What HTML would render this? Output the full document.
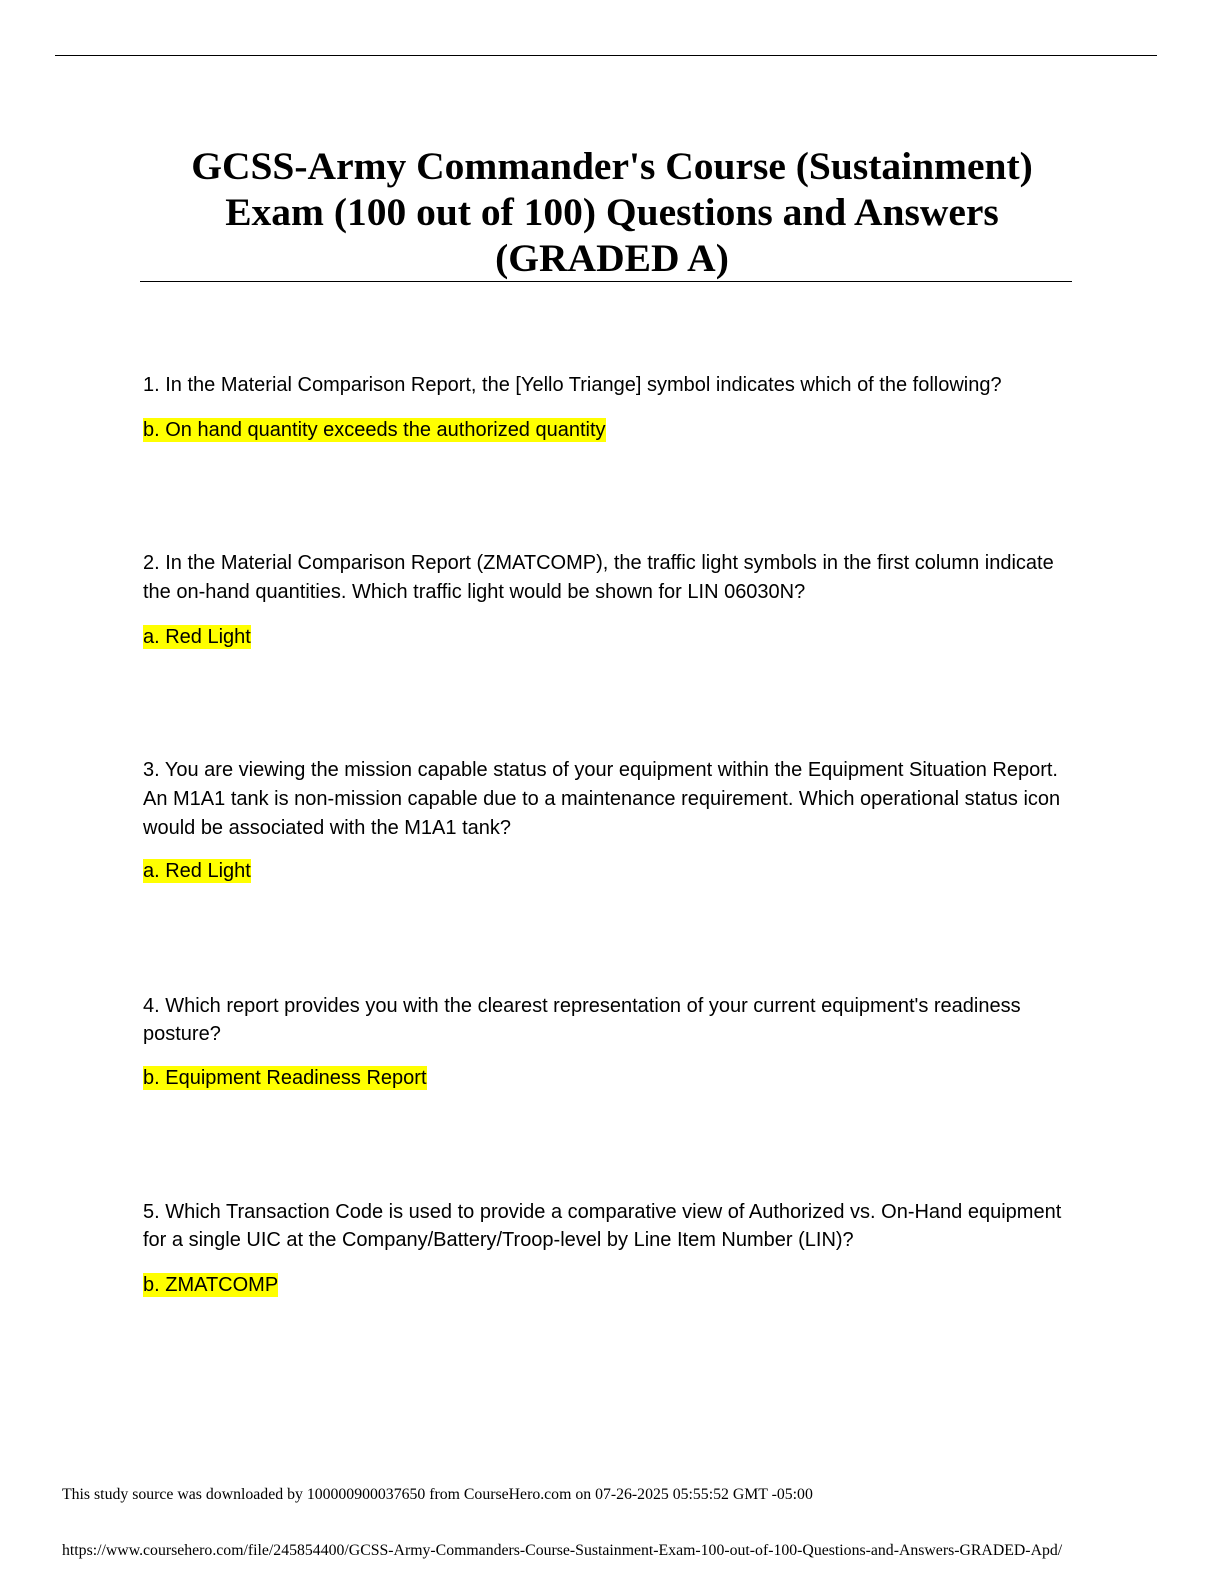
<!DOCTYPE html>
<html><head><meta charset="utf-8"><style>
html,body{margin:0;padding:0;background:#fff;}
body{width:1224px;height:1584px;position:relative;overflow:hidden;}
.hr{position:absolute;background:#000;height:1px;}
.t{position:absolute;left:0;width:1224px;text-align:center;font-family:"Liberation Serif",serif;font-weight:bold;font-size:39.5px;line-height:46px;color:#000;}
.q{position:absolute;left:143px;font-family:"Liberation Sans",sans-serif;font-size:20px;line-height:22px;color:#000;white-space:nowrap;}
.a{background:#ffff00;padding:1px 0 1px 0;}
.f{position:absolute;left:62px;font-family:"Liberation Serif",serif;font-size:15.8px;color:#000;white-space:nowrap;}
</style></head><body>
<div class="hr" style="left:55px;width:1102px;top:55px;"></div>
<div class="t" style="top:143px;">GCSS-Army Commander's Course (Sustainment)</div>
<div class="t" style="top:189px;">Exam (100 out of 100) Questions and Answers</div>
<div class="t" style="top:235px;">(GRADED A)</div>
<div class="hr" style="left:140px;width:932px;top:281px;"></div>

<div class="q" style="top:374px;">1. In the Material Comparison Report, the [Yello Triange] symbol indicates which of the following?</div>
<div class="q" style="top:419px;"><span class="a">b. On hand quantity exceeds the authorized quantity</span></div>

<div class="q" style="top:552px;">2. In the Material Comparison Report (ZMATCOMP), the traffic light symbols in the first column indicate</div>
<div class="q" style="top:581px;">the on-hand quantities. Which traffic light would be shown for LIN 06030N?</div>
<div class="q" style="top:626px;"><span class="a">a. Red Light</span></div>

<div class="q" style="top:759px;">3. You are viewing the mission capable status of your equipment within the Equipment Situation Report.</div>
<div class="q" style="top:788px;">An M1A1 tank is non-mission capable due to a maintenance requirement. Which operational status icon</div>
<div class="q" style="top:817px;">would be associated with the M1A1 tank?</div>
<div class="q" style="top:860px;"><span class="a">a. Red Light</span></div>

<div class="q" style="top:995px;">4. Which report provides you with the clearest representation of your current equipment's readiness</div>
<div class="q" style="top:1023px;">posture?</div>
<div class="q" style="top:1067px;"><span class="a">b. Equipment Readiness Report</span></div>

<div class="q" style="top:1201px;">5. Which Transaction Code is used to provide a comparative view of Authorized vs. On-Hand equipment</div>
<div class="q" style="top:1229px;">for a single UIC at the Company/Battery/Troop-level by Line Item Number (LIN)?</div>
<div class="q" style="top:1274px;"><span class="a">b. ZMATCOMP</span></div>

<div class="f" style="top:1486px;">This study source was downloaded by 100000900037650 from CourseHero.com on 07-26-2025 05:55:52 GMT -05:00</div>
<div class="f" style="top:1542px;">https://www.coursehero.com/file/245854400/GCSS-Army-Commanders-Course-Sustainment-Exam-100-out-of-100-Questions-and-Answers-GRADED-Apd/</div>
</body></html>
